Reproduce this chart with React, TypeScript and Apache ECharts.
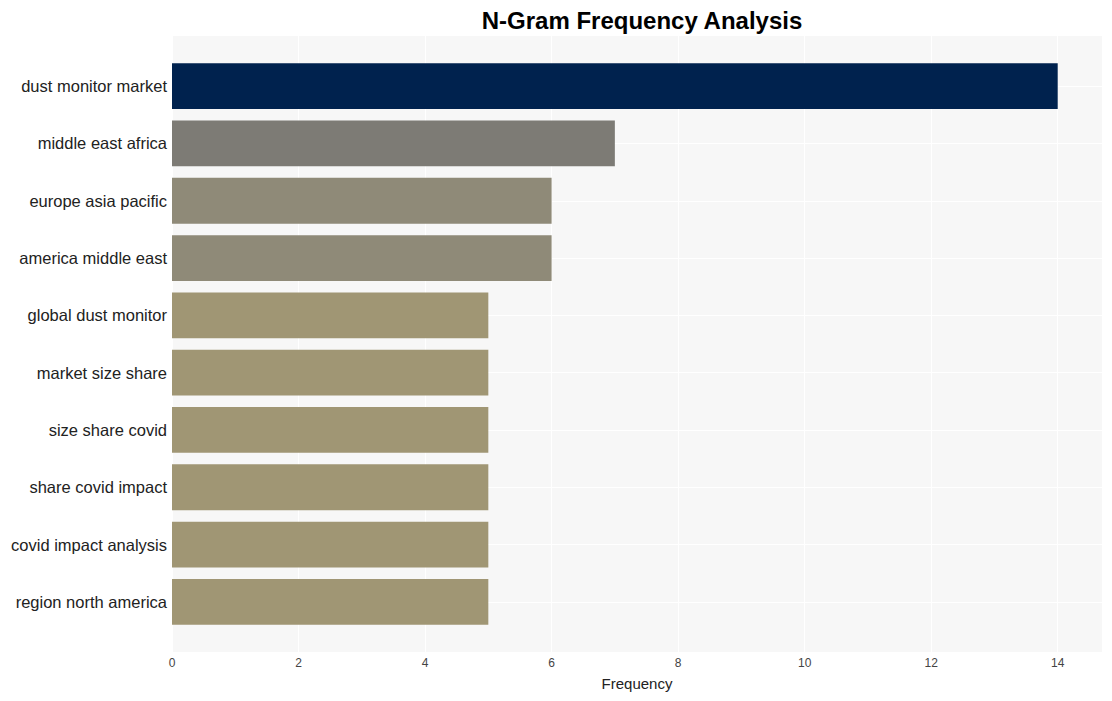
import React, { useEffect, useRef } from "react";
import * as echarts from "echarts";

const categories = [
  "dust monitor market",
  "middle east africa",
  "europe asia pacific",
  "america middle east",
  "global dust monitor",
  "market size share",
  "size share covid",
  "share covid impact",
  "covid impact analysis",
  "region north america",
];
const values = [14, 7, 6, 6, 5, 5, 5, 5, 5, 5];
const barColors = [
  "#00224e",
  "#7d7b75",
  "#8f8a78",
  "#8f8a78",
  "#a09674",
  "#a09674",
  "#a09674",
  "#a09674",
  "#a09674",
  "#a09674",
];
const xMax = 14.7;

export default function App() {
  const ref = useRef<HTMLDivElement>(null);
  useEffect(() => {
    const chart = echarts.init(ref.current!, null, { renderer: "svg" });
    const font = "Liberation Sans, Arial, sans-serif";
    const left = 172;
    const right = 1112 - 1102;
    chart.setOption({
      animation: false,
      textStyle: { fontFamily: font },
      title: {
        text: "N-Gram Frequency Analysis",
        left: 637,
        textAlign: "center",
        top: 3,
        textStyle: { fontSize: 24, fontWeight: "bold", color: "#000", fontFamily: font },
      },
      grid: [
        { left, right, top: 36, bottom: 701 - 652, show: true, backgroundColor: "#f7f7f7", borderWidth: 0 },
        { left, right, top: 57.5, bottom: 701 - 630.5 },
      ],
      xAxis: [
        {
          type: "value",
          gridIndex: 0,
          min: 0,
          max: xMax,
          interval: 2,
          name: "Frequency",
          nameLocation: "middle",
          nameGap: 24,
          nameTextStyle: { fontSize: 15, color: "#222" },
          axisLine: { show: false },
          axisTick: { show: false },
          axisLabel: {
            fontSize: 12,
            color: "#444",
            margin: 5,
            showMaxLabel: false,
            formatter: (v: number) => (v % 2 === 0 ? String(v) : ""),
          },
          splitLine: { show: true, lineStyle: { color: "#ffffff", width: 1 } },
        },
        {
          type: "value",
          gridIndex: 1,
          min: 0,
          max: xMax,
          show: false,
          splitLine: { show: false },
        },
      ],
      yAxis: [
        {
          type: "value",
          gridIndex: 0,
          show: false,
          splitLine: { show: false },
        },
        {
          type: "category",
          gridIndex: 1,
          data: categories,
          inverse: true,
          axisLine: { show: false },
          axisTick: { show: false },
          axisLabel: { fontSize: 16.5, color: "#222", margin: 5 },
          splitLine: { show: true, alignWithLabel: true, lineStyle: { color: "#ffffff", width: 1 } },
        },
      ],
      series: [
        {
          type: "bar",
          xAxisIndex: 1,
          yAxisIndex: 1,
          data: values.map((v, i) => ({ value: v, itemStyle: { color: barColors[i] } })),
          barCategoryGap: "20%",
        },
      ],
    });
    return () => chart.dispose();
  }, []);
  return (
    <div
      ref={ref}
      style={{ position: "fixed", left: 0, top: 0, width: 1112, height: 701, background: "#fff" }}
    />
  );
}
